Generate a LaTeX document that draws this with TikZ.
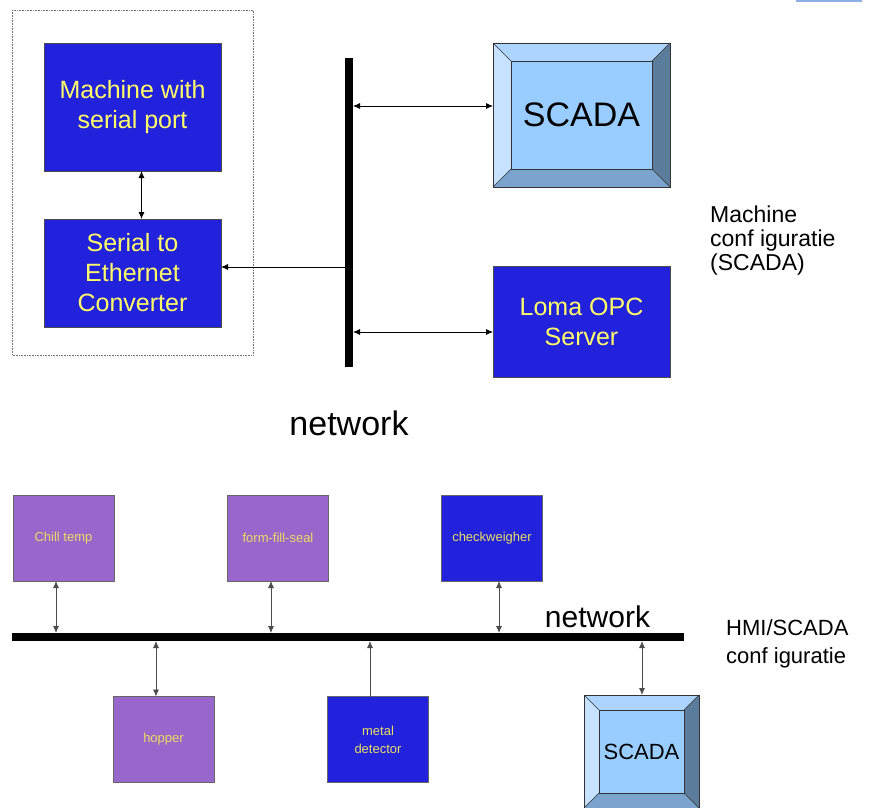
\documentclass[tikz,border=0pt]{standalone}
\usepackage{fontspec}
\setmainfont{Liberation Sans}
\usetikzlibrary{arrows.meta}

\definecolor{boxblue}{RGB}{34,34,221}
\definecolor{boxpurple}{RGB}{153,102,204}
\definecolor{boxyellow}{RGB}{255,255,102}
\definecolor{smallyellow}{RGB}{232,222,96}
\definecolor{scadainner}{RGB}{153,204,255}
\definecolor{bvtopc}{RGB}{172,212,252}
\definecolor{bvleftc}{RGB}{198,226,255}
\definecolor{bvrightc}{RGB}{92,124,156}
\definecolor{bvbotc}{RGB}{122,164,206}
\definecolor{edgeblue}{RGB}{140,176,230}

% bevelled frame round a node: name, bevel width
\newcommand{\bevelframe}[2]{%
  \fill[bvtopc] (#1.north west) -- (#1.north east) -- ([xshift=-#2pt,yshift=-#2pt]#1.north east) -- ([xshift=#2pt,yshift=-#2pt]#1.north west) -- cycle;
  \fill[bvleftc] (#1.north west) -- ([xshift=#2pt,yshift=-#2pt]#1.north west) -- ([xshift=#2pt,yshift=#2pt]#1.south west) -- (#1.south west) -- cycle;
  \fill[bvrightc] (#1.north east) -- ([xshift=-#2pt,yshift=-#2pt]#1.north east) -- ([xshift=-#2pt,yshift=#2pt]#1.south east) -- (#1.south east) -- cycle;
  \fill[bvbotc] (#1.south west) -- ([xshift=#2pt,yshift=#2pt]#1.south west) -- ([xshift=-#2pt,yshift=#2pt]#1.south east) -- (#1.south east) -- cycle;
  \draw[bvline] (#1.north west) rectangle (#1.south east);
  \draw[bvline] ([xshift=#2pt,yshift=-#2pt]#1.north west) rectangle ([xshift=-#2pt,yshift=#2pt]#1.south east);
  \draw[bvline] (#1.north west) -- ([xshift=#2pt,yshift=-#2pt]#1.north west);
  \draw[bvline] (#1.north east) -- ([xshift=-#2pt,yshift=-#2pt]#1.north east);
  \draw[bvline] (#1.south west) -- ([xshift=#2pt,yshift=#2pt]#1.south west);
  \draw[bvline] (#1.south east) -- ([xshift=-#2pt,yshift=#2pt]#1.south east);
}

\begin{document}
\begin{tikzpicture}[x=1pt,y=-1pt,
  bigbox/.style={draw=black!70, line width=0.7pt, fill=boxblue, text=boxyellow,
    align=center, minimum width=177pt, outer sep=0pt,
    font=\fontsize{25}{30}\selectfont},
  smallbox/.style={draw=black!60, line width=0.7pt, fill=#1, text=smallyellow,
    align=center, minimum width=101pt, minimum height=86pt, outer sep=0pt,
    font=\fontsize{13}{18}\selectfont},
  scadabox/.style={fill=scadainner, outer sep=0pt, inner sep=0pt},
  bvline/.style={draw=black!80, line width=0.6pt},
  bus/.style={line width=7.5pt},
  link/.style={<->, >={Latex[length=7pt,width=6pt]}, line width=0.8pt},
  uplink/.style={->, >={Latex[length=7pt,width=6pt]}, line width=0.8pt, draw=black!70},
  lowlink/.style={link, draw=black!70},
  frame/.style={draw=black!55, densely dotted, line width=0.6pt}]
  \useasboundingbox (0,0) rectangle (878,808);

  % bovenste deel
  \fill[edgeblue] (796,0) rectangle (862,2);
  \draw[frame] (12,10) rectangle (253,355);

  \node[bigbox, minimum height=128pt] (machine) at (132.5,107) {Machine with\\serial port};
  \node[bigbox, minimum height=108pt] (conv) at (132.5,273) {Serial to\\Ethernet\\Converter};
  \node[bigbox, minimum height=111pt] (opc) at (581.5,322) {Loma OPC\\Server};

  \node[scadabox, minimum width=177pt, minimum height=144pt] (scadaT) at (581.5,115) {};
  \bevelframe{scadaT}{18}
  \node[font=\fontsize{34}{34}\selectfont] at (scadaT) {SCADA};

  % netwerk (verticaal)
  \coordinate (vtop) at (349,58);
  \coordinate (vbot) at (349,367);
  \draw[bus] (vtop) -- (vbot);
  \coordinate (tapA) at (353,106);
  \coordinate (tapB) at (353,267);
  \coordinate (tapC) at (353,332);

  \draw[link] ([xshift=9pt]machine.south) -- ([xshift=9pt]conv.north);
  \draw[link] (conv.east |- tapB) -- (tapB);
  \draw[link] (tapA) -- (scadaT.west |- tapA);
  \draw[link] (tapC) -- (opc.west |- tapC);

  \node[anchor=base, font=\fontsize{34}{34}\selectfont] (net1) at (349,435) {network};
  \node[anchor=north west, align=left, inner sep=0pt, font=\fontsize{23}{24}\selectfont]
    (cfg1) at (710,206) {Machine\\conf iguratie\\(SCADA)};

  % onderste deel
  \node[smallbox=boxpurple] (chill) at (63.5,538) {Chill temp};
  \node[smallbox=boxpurple] (ffs) at (278,538) {form-fill-seal};
  \node[smallbox=boxblue] (check) at (492,538) {checkweigher};
  \node[smallbox=boxpurple] (hopper) at (163.5,739.5) {hopper};
  \node[smallbox=boxblue] (metal) at (378,739.5) {metal\\detector};

  \node[scadabox, minimum width=115pt, minimum height=113pt] (scadaB) at (641.5,751.5) {};
  \bevelframe{scadaB}{15}
  \node[font=\fontsize{22}{22}\selectfont] at (scadaB) {SCADA};

  % netwerk (horizontaal)
  \coordinate (hleft) at (12,637);
  \coordinate (hright) at (684,637);
  \draw[bus] (hleft) -- (hright);
  \coordinate (up1) at (56,633);
  \coordinate (up2) at (271,633);
  \coordinate (up3) at (499,633);
  \coordinate (dn1) at (156,641);
  \coordinate (dn2) at (370,641);
  \coordinate (dn3) at (642,641);

  \draw[lowlink] (up1 |- chill.south) -- (up1);
  \draw[lowlink] (up2 |- ffs.south) -- (up2);
  \draw[lowlink] (up3 |- check.south) -- (up3);
  \draw[lowlink] (dn1) -- (dn1 |- hopper.north);
  \draw[uplink] (dn2 |- metal.north) -- (dn2);
  \draw[lowlink] (dn3) -- (dn3 |- scadaB.north);

  \node[anchor=base, font=\fontsize{30}{30}\selectfont] (net2) at (597.5,627) {network};
  \node[anchor=north west, align=left, inner sep=0pt, font=\fontsize{22}{28}\selectfont]
    (cfg2) at (726,619) {HMI/SCADA\\conf iguratie};
\end{tikzpicture}
\end{document}
